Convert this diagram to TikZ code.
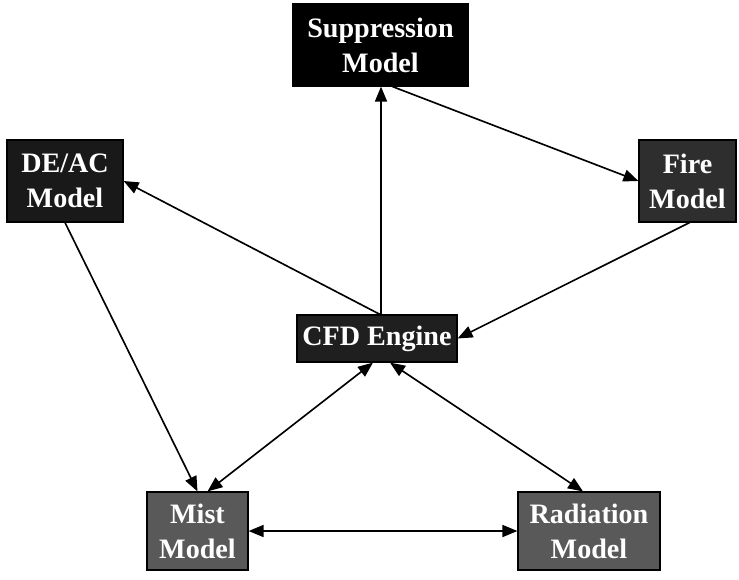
\documentclass[tikz,border=0pt]{standalone}
\usepackage{fontspec}
\setmainfont{Liberation Serif}
\usetikzlibrary{arrows.meta,calc}
\begin{document}
\begin{tikzpicture}[x=0.03cm,y=-0.03cm,
  box/.style={draw=black, line width=1pt, fill=#1, text=white, align=center,
    font=\fontsize{24}{30}\selectfont\bfseries, inner sep=0pt},
  link/.style={line width=1.4pt, -{Triangle[length=0.45cm,width=0.36cm]}},
  dlink/.style={line width=1.4pt, {Triangle[length=0.45cm,width=0.36cm]}-{Triangle[length=0.45cm,width=0.36cm]}}]
\useasboundingbox (0,0) rectangle (739,579);
\node[box=black, minimum width=5.25cm, minimum height=2.46cm] (sup) at (380.5,45) {Suppression\\Model};
\node[box=black!90!white, minimum width=3.48cm, minimum height=2.46cm] (de) at (65,181) {DE/AC\\Model};
\node[box=black!82!white, minimum width=2.91cm, minimum height=2.46cm] (fire) at (687.5,181) {Fire\\Model};
\node[box=black!88!white, minimum width=4.8cm, minimum height=1.41cm] (cfd) at (377,338.5) {CFD Engine};
\node[box=black!65!white, minimum width=3.03cm, minimum height=2.34cm] (mist) at (197.5,531) {Mist\\Model};
\node[box=black!65!white, minimum width=4.26cm, minimum height=2.34cm] (rad) at (589,531) {Radiation\\Model};
% connectors
\draw[link] ($(cfd.north)+(4,0)$) -- ($(sup.south)+(0.5,0)$);
\draw[link] ($(sup.south)+(12,0)$) -- (fire.west);
\draw[link] ($(fire.south)+(2,0)$) -- (cfd.east);
\draw[link] ($(cfd.north)+(3,0)$) -- (de.east);
\draw[link] (de.south) -- (mist.north);
\draw[dlink] ($(cfd.south)+(-4,0)$) -- ($(mist.north)+(10,0)$);
\draw[dlink] ($(cfd.south)+(13,0)$) -- ($(rad.north)+(-6,0)$);
\draw[dlink] (mist.east) -- (rad.west);
\end{tikzpicture}
\end{document}
